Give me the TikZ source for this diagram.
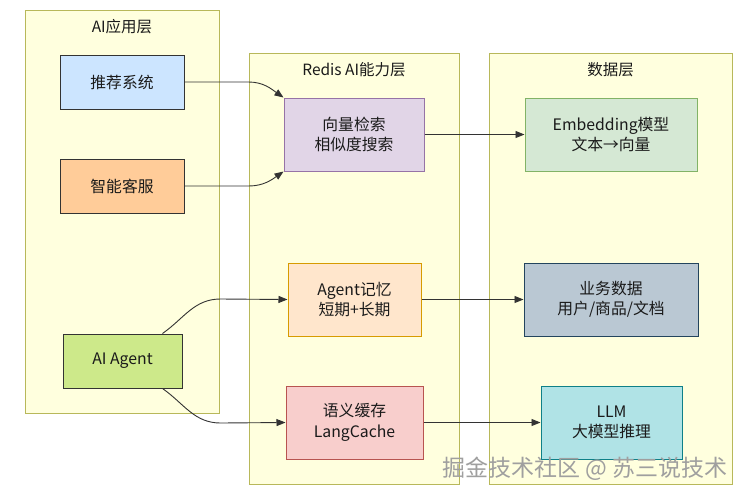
\documentclass[tikz,border=0pt]{standalone}
\usepackage{fontspec}
\setmainfont{Noto Sans CJK SC}
\usetikzlibrary{arrows.meta}
\definecolor{clfill}{HTML}{FFFFDE}
\definecolor{cldraw}{HTML}{B8B85A}
\definecolor{edge}{HTML}{333333}
\definecolor{txt}{HTML}{1A1A1A}
\tikzset{
  cluster/.style={draw=cldraw, fill=clfill, line width=0.9pt, inner sep=0pt},
  cltitle/.style={text=txt, font=\fontsize{15.5}{18}\selectfont},
  box/.style={line width=1pt, inner sep=0pt, align=center, text=txt,
    font=\fontsize{15.8}{20.5}\selectfont},
  arr/.style={draw=edge, line width=0.9pt, -{Triangle[length=9pt,width=7pt]}},
  wmark/.style={text=gray!75, font=\fontsize{23}{26}\selectfont}
}
\begin{document}
\begin{tikzpicture}[x=1pt,y=-1pt]
\useasboundingbox[fill=white] (0,0) rectangle (747,499);
% clusters
\node[cluster, minimum width=194, minimum height=403] (c1) at (122,211.5) {};
\node[cltitle] (t1) at (122,27) {AI应用层};
\node[cluster, minimum width=210, minimum height=431] (c2) at (354,268.5) {};
\node[cltitle] (t2) at (354,70) {Redis AI能力层};
\node[cluster, minimum width=243, minimum height=431] (c3) at (610.5,268.5) {};
\node[cltitle] (t3) at (610.5,70) {数据层};
% nodes
\node[box, draw=edge, fill={rgb,255:red,204;green,229;blue,255}, minimum width=124, minimum height=54] (rec) at (122,82) {推荐系统};
\node[box, draw=edge, fill={rgb,255:red,255;green,204;blue,153}, minimum width=124, minimum height=54] (svc) at (122,186) {智能客服};
\node[box, draw=edge, fill={rgb,255:red,205;green,233;blue,138}, minimum width=119, minimum height=54] (agent) at (122.5,361) {AI Agent};
\node[box, draw={rgb,255:red,150;green,115;blue,166}, fill={rgb,255:red,225;green,213;blue,231}, minimum width=140, minimum height=73] (vec) at (354,134.5) {向量检索\\相似度搜索};
\node[box, draw={rgb,255:red,215;green,155;blue,0}, fill={rgb,255:red,255;green,230;blue,204}, minimum width=133, minimum height=73] (mem) at (354.5,299.5) {Agent记忆\\短期+长期};
\node[box, draw={rgb,255:red,184;green,84;blue,80}, fill={rgb,255:red,248;green,206;blue,204}, minimum width=137, minimum height=73] (cache) at (354.5,422.5) {语义缓存\\LangCache};
\node[box, draw={rgb,255:red,130;green,179;blue,102}, fill={rgb,255:red,213;green,232;blue,212}, minimum width=172, minimum height=73] (emb) at (611,134.5) {Embedding模型\\文本→向量};
\node[box, draw={rgb,255:red,35;green,68;blue,93}, fill={rgb,255:red,186;green,200;blue,211}, minimum width=174, minimum height=73] (biz) at (611,299.5) {业务数据\\用户/商品/文档};
\node[box, draw={rgb,255:red,14;green,128;blue,136}, fill={rgb,255:red,176;green,227;blue,230}, minimum width=141, minimum height=73] (llm) at (611.5,422.5) {LLM\\大模型推理};
% connectors
\draw[arr] (rec.east) -- ++(64,0) to[out=0,in=145] (vec.north west);
\draw[arr] (svc.east) -- ++(64,0) to[out=0,in=215] (vec.south west);
\draw[arr] ([xshift=-20pt]agent.north east) to[out=35,in=180] ++(58,-34.5) -- (mem.west);
\draw[arr] ([xshift=-20pt]agent.south east) to[out=-35,in=180] ++(58,34.5) -- (cache.west);
\draw[arr] (vec.east) -- (emb.west);
\draw[arr] (mem.east) -- (biz.west);
\draw[arr] (cache.east) -- (llm.west);
% watermark
\node[wmark, anchor=east] (wm) at (731,469) {掘金技术社区 @ 苏三说技术};
\end{tikzpicture}
\end{document}
